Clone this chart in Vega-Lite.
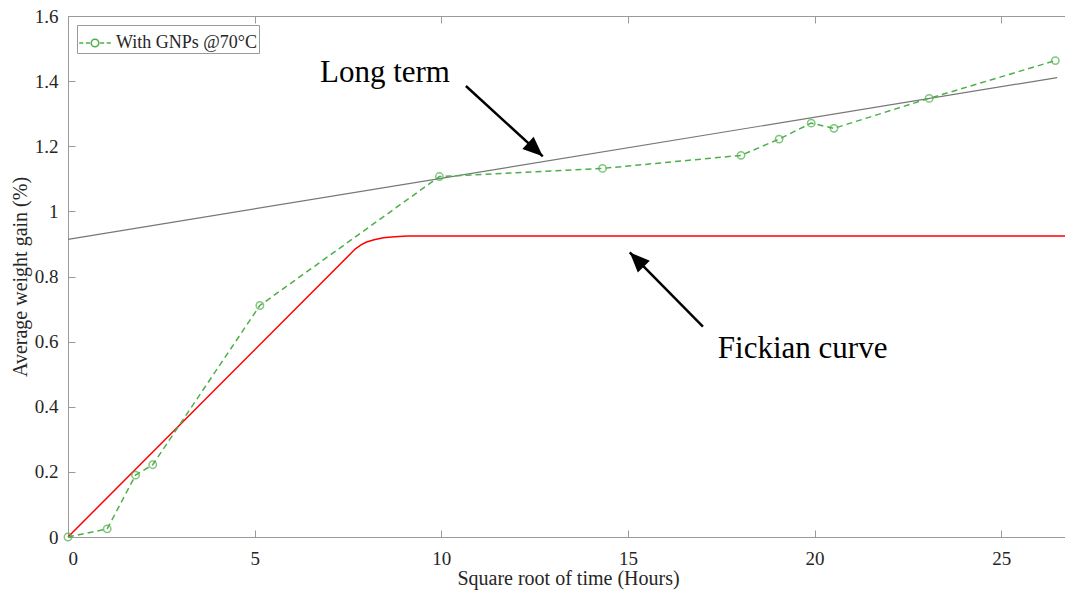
{
  "$schema": "https://vega.github.io/schema/vega-lite/v6.json",
  "autosize": "none",
  "width": 1000,
  "height": 521,
  "padding": {"left": 68, "top": 16, "right": 0, "bottom": 58},
  "background": "white",
  "config": {
    "view": {"stroke": "#9a9a9a", "strokeWidth": 1},
    "axis": {
      "domainColor": "#9a9a9a",
      "tickColor": "#9a9a9a",
      "grid": false,
      "labelFont": "Liberation Serif",
      "labelFontSize": 19,
      "labelColor": "#262626",
      "titleFont": "Liberation Serif",
      "titleFontSize": 20,
      "titleFontWeight": "normal",
      "titleColor": "#262626",
      "tickSize": -7
    },
    "legend": {
      "orient": "top-left",
      "offset": 9,
      "padding": 1,
      "strokeColor": "#9a9a9a",
      "fillColor": "white",
      "labelFont": "Liberation Serif",
      "labelFontSize": 18,
      "labelColor": "#262626"
    }
  },
  "datasets": {
    "gnp": [
      {"t": 0, "w": 0, "series": "With GNPs @70°C"},
      {"t": 1.05, "w": 0.025, "series": "With GNPs @70°C"},
      {"t": 1.81, "w": 0.19, "series": "With GNPs @70°C"},
      {"t": 2.27, "w": 0.222, "series": "With GNPs @70°C"},
      {"t": 5.14, "w": 0.711, "series": "With GNPs @70°C"},
      {"t": 9.95, "w": 1.107, "series": "With GNPs @70°C"},
      {"t": 14.32, "w": 1.132, "series": "With GNPs @70°C"},
      {"t": 18.03, "w": 1.172, "series": "With GNPs @70°C"},
      {"t": 19.05, "w": 1.222, "series": "With GNPs @70°C"},
      {"t": 19.91, "w": 1.271, "series": "With GNPs @70°C"},
      {"t": 20.52, "w": 1.255, "series": "With GNPs @70°C"},
      {"t": 23.07, "w": 1.347, "series": "With GNPs @70°C"},
      {"t": 26.45, "w": 1.463, "series": "With GNPs @70°C"}
    ],
    "longterm": [
      {"t": 0, "w": 0.914},
      {"t": 26.5, "w": 1.411}
    ],
    "fick": [
      {"t": 0, "w": 0},
      {"t": 7.7, "w": 0.885},
      {"t": 7.85, "w": 0.897},
      {"t": 8.0, "w": 0.906},
      {"t": 8.2, "w": 0.913},
      {"t": 8.45, "w": 0.919},
      {"t": 8.75, "w": 0.922},
      {"t": 9.1, "w": 0.924},
      {"t": 26.79, "w": 0.924}
    ],
    "arrows": [
      {"t1": 10.66, "w1": 1.385, "t2": 12.72, "w2": 1.169, "ang": 132.3},
      {"t1": 17.01, "w1": 0.646, "t2": 15.05, "w2": 0.874, "ang": 315.4}
    ],
    "labels": [
      {"t": 6.75, "w": 1.397, "txt": "Long term"},
      {"t": 17.41, "w": 0.551, "txt": "Fickian curve"}
    ]
  },
  "resolve": {"axis": {"x": "independent", "y": "independent"}},
  "layer": [
    {
      "data": {"name": "longterm"},
      "mark": {"type": "line", "color": "#777777", "strokeWidth": 1.2},
      "encoding": {
        "x": {"field": "t", "type": "quantitative", "scale": {"domain": [0, 26.79], "nice": false, "zero": false},
              "axis": {"values": [0, 5, 10, 15, 20, 25], "format": "d", "title": "Square root of time (Hours)", "labelPadding": 19, "titlePadding": 0}},
        "y": {"field": "w", "type": "quantitative", "scale": {"domain": [0, 1.6], "nice": false},
              "axis": {"values": [0, 0.2, 0.4, 0.6, 0.8, 1, 1.2, 1.4, 1.6], "format": "~g", "title": "Average weight gain (%)", "labelPadding": 17, "titlePadding": 4}}
      }
    },
    {
      "data": {"name": "fick"},
      "mark": {"type": "line", "color": "#ff0000", "strokeWidth": 1.5},
      "encoding": {
        "x": {"field": "t", "type": "quantitative", "axis": {"orient": "top", "values": [0, 5, 10, 15, 20, 25], "labels": false, "title": null}},
        "y": {"field": "w", "type": "quantitative", "axis": null}
      }
    },
    {
      "data": {"name": "gnp"},
      "mark": {"type": "line", "strokeWidth": 1.5, "strokeDash": [6, 4]},
      "encoding": {
        "x": {"field": "t", "type": "quantitative", "axis": null},
        "y": {"field": "w", "type": "quantitative", "axis": null},
        "color": {"field": "series", "type": "nominal", "scale": {"range": ["#4daf4a"]},
                  "legend": {"title": null, "symbolType": "M -1 0 L -0.74 0 M -0.58 0 L -0.32 0 M 0.32 0 L 0.58 0 M 0.74 0 L 1 0 M -0.24 0 A 0.24 0.24 0 1 1 0.24 0 A 0.24 0.24 0 1 1 -0.24 0 Z",
                             "symbolSize": 1000, "symbolStrokeWidth": 1.5, "symbolFillColor": "white"}}
      }
    },
    {
      "data": {"name": "gnp"},
      "mark": {"type": "point", "shape": "circle", "filled": false, "color": "#4daf4a", "strokeWidth": 1.5, "size": 55},
      "encoding": {
        "x": {"field": "t", "type": "quantitative", "axis": null},
        "y": {"field": "w", "type": "quantitative", "axis": null}
      }
    },
    {
      "data": {"name": "arrows"},
      "mark": {"type": "rule", "color": "black", "strokeWidth": 2.5},
      "encoding": {
        "x": {"field": "t1", "type": "quantitative", "axis": null},
        "y": {"field": "w1", "type": "quantitative", "axis": null},
        "x2": {"field": "t2"},
        "y2": {"field": "w2"}
      }
    },
    {
      "data": {"name": "arrows"},
      "mark": {"type": "point", "shape": "M 0 0 L 0.42 1 L -0.42 1 Z", "filled": true, "color": "black", "opacity": 1, "size": 1600},
      "encoding": {
        "x": {"field": "t2", "type": "quantitative", "axis": null},
        "y": {"field": "w2", "type": "quantitative", "axis": null},
        "angle": {"field": "ang", "type": "quantitative", "scale": null}
      }
    },
    {
      "data": {"name": "labels"},
      "mark": {"type": "text", "font": "Liberation Serif", "fontSize": 31, "color": "black", "align": "left", "baseline": "alphabetic"},
      "encoding": {
        "x": {"field": "t", "type": "quantitative", "axis": null},
        "y": {"field": "w", "type": "quantitative", "axis": null},
        "text": {"field": "txt"}
      }
    }
  ]
}
